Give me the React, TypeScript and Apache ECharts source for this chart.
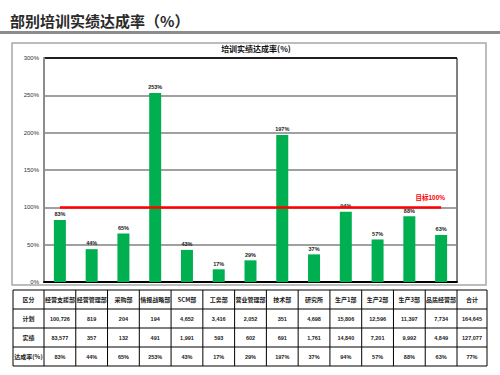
import React, { useEffect, useRef } from "react";
import * as echarts from "echarts";

const pageTitle = "部别培训实绩达成率（%）";
const chartTitle = "培训实绩达成率(%)";
const categories = ["经营支援部", "经营管理部", "采购部", "情报战略部", "SCM部", "工务部", "营业管理部", "技术部", "研究所", "生产1部", "生产2部", "生产3部", "品质经营部"];
const rates = [83, 44, 65, 253, 43, 17, 29, 197, 37, 94, 57, 88, 63];
const target = 100;
const targetLabel = "目标100%";
const planValues = ["100,726", "819", "204", "194", "4,652", "3,416", "2,052", "351", "4,698", "15,806", "12,596", "11,397", "7,734"];
const actualValues = ["83,577", "357", "132", "491", "1,991", "593", "602", "691", "1,761", "14,840", "7,201", "9,992", "4,849"];
const totalLabel = "合计";
const totalPlan = "164,645";
const totalActual = "127,077";
const totalRate = "77%";
const headerLabel = "区分";
const rowLabels = ["计划", "实绩", "达成率(%)"];
const yMin = 0;
const yMax = 300;
const yInterval = 50;

const FONT = "'Liberation Sans', Arial, 'Noto Sans CJK SC', sans-serif";

export default function App() {
  const ref = useRef<HTMLDivElement>(null);
  useEffect(() => {
    if (!ref.current) return;
    const chart = echarts.init(ref.current, null, { renderer: "svg" });

    const gridLeft = 44;
    const gridRight = 457;
    const gridTop = 58;
    const gridBottomY = 282;
    const band = (gridRight - gridLeft) / categories.length;
    const colX: number[] = [13];
    for (let i = 0; i <= categories.length; i++) colX.push(gridLeft + band * i);
    colX.push(487);
    const rowY = [290, 309, 328, 347, 366];

    const tableRows: string[][] = [
      [headerLabel, ...categories, totalLabel],
      [rowLabels[0], ...planValues, totalPlan],
      [rowLabels[1], ...actualValues, totalActual],
      [rowLabels[2], ...rates.map((r) => r + "%"), totalRate],
    ];

    const graphics: any[] = [];
    graphics.push({ type: "rect", shape: { x: 0, y: 31, width: 500, height: 3 }, style: { fill: "#8c8c8c" }, silent: true });
    graphics.push({
      type: "text", x: 10, y: 20,
      style: { text: pageTitle, font: "bold 15px 'Noto Sans CJK SC', sans-serif", fill: "#2a2a2a", verticalAlign: "middle", align: "left" },
    });
    graphics.push({ type: "rect", shape: { x: 12, y: 43, width: 474, height: 242 }, style: { fill: "none", stroke: "#a6a6a6", lineWidth: 1.5 }, silent: true });

    rowY.forEach((y) => {
      graphics.push({ type: "line", shape: { x1: colX[0], y1: y, x2: colX[colX.length - 1], y2: y }, style: { stroke: "#000", lineWidth: 1 } });
    });
    colX.forEach((x) => {
      graphics.push({ type: "line", shape: { x1: x, y1: rowY[0], x2: x, y2: rowY[rowY.length - 1] }, style: { stroke: "#000", lineWidth: 1 } });
    });
    tableRows.forEach((row, r) => {
      row.forEach((txt, c) => {
        const cx = (colX[c] + colX[c + 1]) / 2;
        const cy = (rowY[r] + rowY[r + 1]) / 2;
        const isCjk = r === 0 || c === 0;
        graphics.push({
          type: "text", x: cx, y: cy,
          style: {
            text: txt,
            font: isCjk ? `bold 6px 'Noto Sans CJK SC', sans-serif` : `bold 5.5px ${FONT}`,
            fill: "#222", align: "center", verticalAlign: "middle",
          },
        });
      });
    });

    chart.setOption({
      animation: false,
      backgroundColor: "#fff",
      title: {
        text: chartTitle, left: 256, top: 44, padding: 0, textAlign: "center",
        textStyle: { fontSize: 8, fontWeight: "bold", color: "#111", fontFamily: "'Noto Sans CJK SC', sans-serif" },
      },
      grid: {
        left: gridLeft, right: 500 - gridRight, top: gridTop, bottom: 375 - gridBottomY,
        show: true, borderColor: "#000", borderWidth: 1, backgroundColor: "transparent",
      },
      xAxis: {
        type: "category", data: categories,
        axisLine: { show: true, lineStyle: { color: "#000", width: 2 } },
        axisTick: { show: false }, axisLabel: { show: false }, splitLine: { show: false },
      },
      yAxis: {
        type: "value", min: yMin, max: yMax, interval: yInterval,
        axisLine: { show: true, lineStyle: { color: "#8c8c8c", width: 2 } },
        axisTick: { show: false },
        axisLabel: { formatter: "{value}%", fontSize: 6, color: "#333", fontFamily: FONT, margin: 5 },
        splitLine: { show: true, lineStyle: { color: ["#808080", "#808080", "#808080", "#808080", "#808080", "#808080", "#000"], width: 1.6 } },
      },
      series: [
        {
          type: "bar", data: rates, barWidth: 12,
          itemStyle: { color: "#00B050" },
          label: { show: true, position: "top", distance: 3, formatter: "{c}%", fontSize: 5.5, fontWeight: "bold", color: "#222", fontFamily: FONT },
          markLine: {
            silent: true, symbol: "none", animation: false,
            lineStyle: { color: "#FF0000", width: 2.5, type: "solid" },
            label: {
              show: true, position: "insideEndTop", formatter: targetLabel, color: "#FF0000",
              fontSize: 6.5, fontWeight: "bold", fontFamily: FONT, offset: [7, -4], distance: 3,
            },
            data: [[{ coord: [categories[0], target] }, { coord: [categories[categories.length - 1], target] }]],
          },
        },
      ],
      graphic: graphics,
    });
    return () => chart.dispose();
  }, []);
  return <div ref={ref} style={{ position: "absolute", left: 0, top: 0, width: 500, height: 375 }} />;
}
